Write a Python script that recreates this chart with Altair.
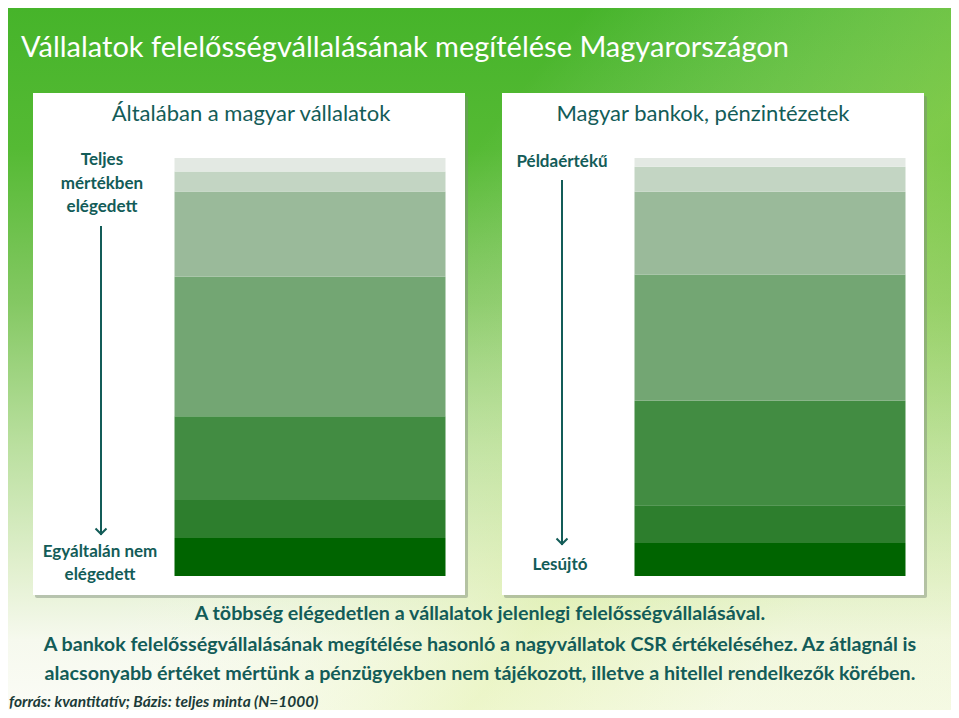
import altair as alt
import pandas as pd

# ---- data ----
groups = ["Általában a magyar vállalatok", "Magyar bankok, pénzintézetek"]
levels = [1, 2, 3, 4, 5, 6, 7]  # 1 = legrosszabb (alul), 7 = legjobb (felül)
general_pct = [9.1, 9.1, 20.0, 33.4, 20.4, 4.8, 3.2]
banks_pct = [7.9, 9.0, 25.0, 30.2, 19.8, 6.0, 2.1]
level_colors = ["#006400", "#2d7e2d", "#428c42", "#73a673", "#9aba9a", "#c3d5c3", "#e3e9e3"]

title_text = "Vállalatok felelősségvállalásának megítélése Magyarországon"
left_top = ["Teljes", "mértékben", "elégedett"]
left_bottom = ["Egyáltalán nem", "elégedett"]
right_top = "Példaértékű"
right_bottom = "Lesújtó"
summary = [
    "A többség elégedetlen a vállalatok jelenlegi felelősségvállalásával.",
    "A bankok felelősségvállalásának megítélése hasonló a nagyvállatok CSR értékeléséhez. Az átlagnál is",
    "alacsonyabb értéket mértünk a pénzügyekben nem tájékozott, illetve a hitellel rendelkezők körében.",
]
source = "forrás: kvantitatív; Bázis: teljes minta (N=1000)"

rows = []
for g, vals in zip(groups, [general_pct, banks_pct]):
    for lv, v in zip(levels, vals):
        rows.append({"group": g, "level": lv, "pct": v})
df = pd.DataFrame(rows)
one = pd.DataFrame({"d": [0]})

W, H = 943, 702
FONT = "Lato"
TEAL = "#135c58"

def P(v):
    return v - 8

base = alt.Chart(one)

bg = base.mark_rect(
    color=alt.Gradient(
        gradient="linear",
        stops=[
            alt.GradientStop(color="#46b42a", offset=0),
            alt.GradientStop(color="#55ba34", offset=0.2),
            alt.GradientStop(color="#84c863", offset=0.42),
            alt.GradientStop(color="#b9df9e", offset=0.62),
            alt.GradientStop(color="#e2f0cf", offset=0.8),
            alt.GradientStop(color="#f6f9ee", offset=0.9),
            alt.GradientStop(color="#fbfcf6", offset=1),
        ],
        x1=0, x2=0, y1=0, y2=1,
    )
).encode(x=alt.value(0), x2=alt.value(W), y=alt.value(0), y2=alt.value(H))

glow = base.mark_rect(
    color=alt.Gradient(
        gradient="linear",
        stops=[
            alt.GradientStop(color="rgba(255,255,255,0)", offset=0),
            alt.GradientStop(color="rgba(255,255,255,0)", offset=0.45),
            alt.GradientStop(color="rgba(210,235,120,0.35)", offset=0.8),
            alt.GradientStop(color="rgba(210,235,120,0.15)", offset=1),
        ],
        x1=0, x2=1, y1=0, y2=0.6,
    ),
).encode(x=alt.value(0), x2=alt.value(W), y=alt.value(0), y2=alt.value(H))

def panel(x0, x1, y0, y1):
    sh = base.mark_rect(color="#7a8a78", opacity=0.45, cornerRadius=2).encode(
        x=alt.value(P(x0) + 2), x2=alt.value(P(x1) + 3),
        y=alt.value(P(y0) + 3), y2=alt.value(P(y1) + 3))
    pn = base.mark_rect(color="#ffffff").encode(
        x=alt.value(P(x0)), x2=alt.value(P(x1)),
        y=alt.value(P(y0)), y2=alt.value(P(y1)))
    return [sh, pn]

panels = panel(33, 465, 93, 595) + panel(502, 924, 93, 595)

bars = alt.Chart(df).mark_bar(size=271).encode(
    x=alt.X("group:N", sort=groups, axis=None,
            scale=alt.Scale(domain=groups, range=[P(175), P(905)], paddingInner=0.413, paddingOuter=0)),
    y=alt.Y("pct:Q", stack="zero", axis=None,
            scale=alt.Scale(domain=[0, 100], range=[P(576), P(158)])),
    color=alt.Color("level:O", legend=None,
                    scale=alt.Scale(domain=levels, range=level_colors)),
    order=alt.Order("level:O", sort="ascending"),
)

def txt(text, x, y, size, color=TEAL, weight="normal", align="center", style="normal", lh=None):
    kw = dict(font=FONT, fontSize=size, color=color, fontWeight=weight, align=align,
              baseline="middle", fontStyle=style)
    if lh:
        kw["lineHeight"] = lh
    return base.mark_text(**kw).encode(x=alt.value(P(x)), y=alt.value(P(y)), text=alt.value(text))

texts = [
    txt(title_text, 21, 48, 29, color="#ffffff", align="left"),
    txt(groups[0], 251, 114, 22),
    txt(groups[1], 703, 114, 22),
    txt(left_top, 102, 160, 17, weight="bold", lh=23.5),
    txt(left_bottom, 100, 552, 17, weight="bold", lh=23),
    txt(right_top, 562, 162, 17, weight="bold"),
    txt(right_bottom, 560, 565, 17, weight="bold"),
    txt(summary[0], 480, 614, 19.7, weight="bold"),
    txt(summary[1], 480, 645, 19.7, weight="bold"),
    txt(summary[2], 480, 674, 19.7, weight="bold"),
    txt(source, 9, 702, 15.5, color="#1b3b38", align="left", style="italic", weight="bold"),
]

def arrow(x, y0, y1):
    line = base.mark_rule(color=TEAL, strokeWidth=2).encode(
        x=alt.value(P(x)), y=alt.value(P(y0)), y2=alt.value(P(y1)))
    head = base.mark_point(shape="M-1,-1L0,0L1,-1", filled=False, color=TEAL,
                           strokeWidth=2, size=120, opacity=1).encode(
        x=alt.value(P(x)), y=alt.value(P(y1) - 1))
    return [line, head]

arrows = arrow(101, 226, 535) + arrow(562, 180, 545)

chart = alt.layer(bg, glow, *panels, bars, *arrows, *texts).properties(
    width=W, height=H, padding=0,
    autosize=alt.AutoSizeParams(type="fit", contains="padding"),
).configure_view(stroke=None)

chart.save("out.html", embed_options={"renderer": "svg", "actions": False})
